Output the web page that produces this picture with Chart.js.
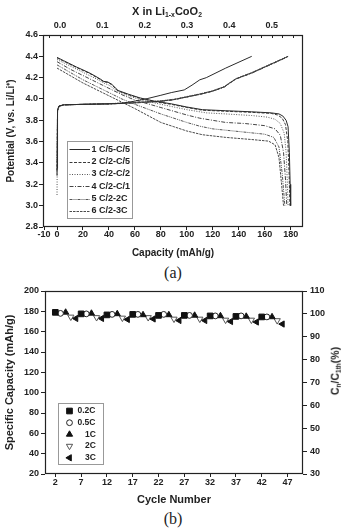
<!DOCTYPE html>
<html>
<head>
<meta charset="utf-8">
<script src="https://cdn.jsdelivr.net/npm/chart.js@4.4.1/dist/chart.umd.min.js"></script>
<style>
html,body{margin:0;padding:0;background:#fff;}
body{width:346px;height:529px;position:relative;overflow:hidden;}
.box{position:absolute;left:0;width:346px;}
#boxA{top:0;height:262px;}
#boxB{top:280px;height:230px;}
.lbl{position:absolute;font-family:"Liberation Sans",Arial,sans-serif;font-weight:bold;color:#222;white-space:nowrap;line-height:1;}
.lbl sub{font-size:0.62em;vertical-align:baseline;position:relative;top:0.35em;}
.cap{position:absolute;font-family:"Liberation Serif","Times New Roman",serif;color:#222;font-size:16px;line-height:1;transform:translate(-50%,-50%);white-space:nowrap;}
</style>
</head>
<body>
<div class="box" id="boxA"><canvas id="chartA"></canvas></div>
<div class="lbl" style="left:167px;top:11px;font-size:11px;transform:translate(-50%,-50%);">X in Li<sub>1-x</sub>CoO<sub>2</sub></div>
<div class="cap" style="left:173px;top:273px;">(a)</div>
<div class="box" id="boxB"><canvas id="chartB"></canvas></div>
<div class="lbl" style="left:335px;top:371px;font-size:10.5px;transform:translate(-50%,-50%) rotate(-90deg);">C<sub>n</sub>/C<sub>1th</sub>(%)</div>
<div class="cap" style="left:173px;top:519px;">(b)</div>
<script>
// ================= DATA (a) =================
const capacityTicks = [-10, 0, 20, 40, 60, 80, 100, 120, 140, 160, 180];
const xLiTickMarks = [-0.025, 0, 0.025, 0.05, 0.075, 0.1, 0.125, 0.15, 0.175, 0.2, 0.225, 0.25, 0.275, 0.3, 0.325, 0.35, 0.375, 0.4, 0.425, 0.45, 0.475, 0.5, 0.525, 0.55];
const xLiLabels = [0.0, 0.1, 0.2, 0.3, 0.4, 0.5];
const curveLabels = ['1 C/5-C/5', '2 C/2-C/5', '3 C/2-C/2', '4 C/2-C/1', '5 C/2-2C', '6 C/2-3C'];

// charge curves [capacity mAh/g, potential V]
const charge1 = [[0,3.35],[0.4,3.90],[1.5,3.935],[5,3.945],[20,3.95],[40,3.955],[50,3.96],[60,3.98],[70,4.005],[80,4.035],[88,4.06],[98,4.085],[104,4.13],[110,4.18],[115,4.20],[130,4.29],[150,4.40]];
const charge2 = [[0,3.28],[0.4,3.89],[1.5,3.93],[5,3.945],[20,3.95],[40,3.955],[60,3.965],[80,3.98],[90,3.995],[100,4.02],[110,4.045],[120,4.075],[129,4.115],[133,4.15],[138,4.19],[150,4.245],[160,4.30],[170,4.355],[178,4.40]];
const charge3 = [[0,3.10],[0.4,3.88],[1.5,3.93],[5,3.945],[20,3.95],[40,3.957],[60,3.967],[80,3.983],[90,3.998],[100,4.023],[110,4.048],[120,4.078],[129,4.118],[133,4.153],[138,4.193],[150,4.248],[160,4.303],[170,4.357],[178.5,4.40]];
const charge4 = [[0,3.32],[0.4,3.89],[1.5,3.932],[5,3.945],[20,3.95],[40,3.953],[60,3.963],[80,3.978],[90,3.993],[100,4.018],[110,4.043],[120,4.073],[129,4.113],[133,4.148],[138,4.188],[150,4.242],[160,4.297],[170,4.352],[177.5,4.395]];
const charge5 = [[0,3.35],[0.4,3.89],[1.5,3.93],[5,3.945],[20,3.95],[40,3.956],[60,3.966],[80,3.981],[90,3.996],[100,4.021],[110,4.046],[120,4.076],[129,4.116],[133,4.151],[138,4.191],[150,4.246],[160,4.301],[170,4.356],[178,4.40]];
const charge6 = [[0,3.30],[0.4,3.89],[1.5,3.93],[5,3.945],[20,3.95],[40,3.954],[60,3.964],[80,3.979],[90,3.994],[100,4.019],[110,4.044],[120,4.074],[129,4.114],[133,4.149],[138,4.189],[150,4.244],[160,4.299],[170,4.354],[177.8,4.398]];

// discharge curves [capacity mAh/g, potential V]
const discharge1 = [[0,4.39],[5,4.36],[15,4.30],[25,4.245],[33,4.19],[36,4.165],[39,4.16],[42,4.14],[47,4.08],[55,4.045],[64,4.01],[75,3.98],[88,3.955],[100,3.925],[112,3.90],[130,3.89],[150,3.88],[165,3.87],[171,3.86],[174,3.84],[176.5,3.80],[178,3.74],[179,3.5],[179.6,3.2],[180,3.0]];
const discharge2 = [[0,4.385],[5,4.355],[15,4.295],[25,4.24],[33,4.185],[36,4.16],[39,4.155],[42,4.135],[47,4.075],[55,4.04],[64,4.005],[75,3.975],[88,3.95],[100,3.92],[112,3.895],[130,3.885],[150,3.875],[165,3.865],[170,3.85],[173.5,3.82],[176,3.76],[177.8,3.6],[178.8,3.3],[179.4,3.0]];
const discharge3 = [[0,4.37],[10,4.31],[20,4.25],[30,4.19],[36,4.15],[40,4.13],[47,4.07],[55,4.03],[65,3.99],[80,3.95],[100,3.90],[115,3.87],[130,3.86],[150,3.845],[162,3.83],[168,3.81],[172,3.77],[175,3.68],[176.5,3.5],[177.5,3.2],[178,3.0]];
const discharge4 = [[0,4.35],[10,4.28],[20,4.22],[30,4.16],[40,4.10],[50,4.04],[60,3.99],[80,3.92],[100,3.85],[110,3.82],[120,3.80],[130,3.78],[145,3.77],[160,3.75],[168,3.72],[172,3.66],[174.5,3.5],[176,3.25],[177,3.0]];
const discharge5 = [[0,4.32],[10,4.25],[20,4.18],[30,4.12],[40,4.06],[50,4.00],[60,3.95],[80,3.86],[100,3.78],[110,3.745],[120,3.72],[140,3.695],[160,3.67],[167,3.64],[171,3.55],[173.5,3.3],[175.5,3.0]];
const discharge6 = [[0,4.29],[10,4.22],[20,4.15],[30,4.09],[40,4.03],[50,3.97],[60,3.91],[80,3.78],[90,3.74],[100,3.70],[112,3.665],[130,3.64],[150,3.62],[163,3.605],[168,3.57],[171,3.45],[173,3.2],[174.5,3.0]];

// ================= DATA (b) =================
const cycleTicks = [2, 7, 12, 17, 22, 27, 32, 37, 42, 47];
const rateLabels = ['0.2C', '0.5C', '1C', '2C', '3C'];
const cycles02C = [2, 7, 12, 17, 22, 27, 32, 37, 42];
const cap02C    = [179, 177.5, 176.5, 177, 176, 176, 175.5, 175, 174.5];
const cycles05C = [3, 8, 13, 18, 23, 28, 33, 38, 43];
const cap05C    = [178, 177.5, 177, 177, 177, 176, 175.5, 175.5, 174.5];
const cycles1C  = [4, 9, 14, 19, 24, 29, 34, 39, 44];
const cap1C     = [179, 178, 177.5, 176.5, 176.5, 176, 175.5, 175, 174.5];
const cycles2C  = [5, 10, 15, 20, 25, 30, 35, 40, 45];
const cap2C     = [174.5, 174, 173.5, 174, 172.5, 172.5, 171.5, 171.5, 171];
const cycles3C  = [6, 11, 16, 21, 26, 31, 36, 41, 46];
const cap3C     = [173, 173, 172, 172.5, 171, 171, 170, 169.5, 167.5];

// ================= STYLES =================
const FONT = '"Liberation Sans", Arial, sans-serif';
const INK = '#222';
const lineStyles = [
  {color:'#2a2a2a', dash:[]},
  {color:'#3a3a3a', dash:[3,1.5]},
  {color:'#555555', dash:[1,1.5]},
  {color:'#444444', dash:[4,1.5,1,1.5]},
  {color:'#555555', dash:[3,1,1,1,1,1]},
  {color:'#4a4a4a', dash:[2.5,1]}
];
const toXY = arr => arr.map(p => ({x:p[0], y:p[1]}));

const charges = [charge1, charge2, charge3, charge4, charge5, charge6];
const discharges = [discharge1, discharge2, discharge3, discharge4, discharge5, discharge6];

const datasetsA = [];
curveLabels.forEach((lab, i) => {
  const st = lineStyles[i];
  datasetsA.push({label: lab, legendEntry: true, data: toXY(discharges[i]), showLine: true, pointRadius: 0,
    borderColor: st.color, borderDash: st.dash, borderWidth: 1, fill: false, tension: 0});
  datasetsA.push({label: lab + ' charge', legendEntry: false, data: toXY(charges[i]), showLine: true, pointRadius: 0,
    borderColor: st.color, borderDash: st.dash, borderWidth: 1, fill: false, tension: 0});
});

const framePlugin = {
  id: 'frame',
  afterDatasetsDraw(chart) {
    const {ctx, chartArea: a} = chart;
    ctx.save();
    ctx.strokeStyle = INK; ctx.lineWidth = 1.2; ctx.setLineDash([]);
    ctx.strokeRect(Math.round(a.left) + 0.5, Math.round(a.top) + 0.5, Math.round(a.right - a.left) - 1, Math.round(a.bottom - a.top) - 1);
    ctx.restore();
  }
};

const topTicksPlugin = {
  id: 'topTicks',
  afterDatasetsDraw(chart) {
    const s = chart.scales.x2; if (!s) return;
    const {ctx, chartArea: a} = chart;
    ctx.save(); ctx.strokeStyle = INK; ctx.lineWidth = 1; ctx.setLineDash([]);
    ctx.beginPath();
    s.ticks.forEach(t => {
      const px = Math.round(s.getPixelForValue(t.value)) + 0.5;
      ctx.moveTo(px, a.top); ctx.lineTo(px, a.top + 3);
    });
    ctx.stroke(); ctx.restore();
  }
};

const legendAPlugin = {
  id: 'legendA',
  afterDatasetsDraw(chart) {
    const {ctx} = chart;
    const bx = 67, by = 141, bw = 65, bh = 77;
    ctx.save();
    ctx.fillStyle = '#fff'; ctx.fillRect(bx, by, bw, bh);
    ctx.strokeStyle = '#999'; ctx.lineWidth = 1; ctx.setLineDash([]);
    ctx.strokeRect(bx + 0.5, by + 0.5, bw, bh);
    let k = 0;
    chart.data.datasets.forEach(ds => {
      if (!ds.legendEntry) return;
      const y = 149.3 + k * 12.3;
      ctx.strokeStyle = ds.borderColor; ctx.lineWidth = 1; ctx.setLineDash(ds.borderDash);
      ctx.beginPath(); ctx.moveTo(69.5, Math.round(y) + 0.5); ctx.lineTo(90, Math.round(y) + 0.5); ctx.stroke();
      ctx.setLineDash([]);
      ctx.fillStyle = INK; ctx.font = 'bold 9px ' + FONT; ctx.textAlign = 'left'; ctx.textBaseline = 'middle';
      ctx.fillText(ds.label, 91.5, y);
      k++;
    });
    ctx.restore();
  }
};

const tickFont = {family: FONT, size: 9, weight: 'bold', lineHeight: 1};

new Chart(document.getElementById('chartA'), {
  type: 'scatter',
  data: {datasets: datasetsA},
  options: {
    responsive: true, maintainAspectRatio: false, animation: false, devicePixelRatio: 1,
    layout: {padding: {left: 0, right: 43, top: 0, bottom: 0}},
    plugins: {legend: {display: false}, tooltip: {enabled: false}},
    scales: {
      x: {
        type: 'linear', position: 'bottom', min: -10.8, max: 189.5,
        afterBuildTicks: s => { s.ticks = capacityTicks.map(v => ({value: v})); },
        afterFit: s => { s.height = 35; },
        grid: {drawOnChartArea: false, drawTicks: true, tickLength: 3, color: INK},
        border: {display: false},
        ticks: {font: tickFont, color: INK, padding: 0, maxRotation: 0, autoSkip: false, callback: v => String(v)},
        title: {display: true, text: 'Capacity (mAh/g)', font: {family: FONT, size: 10, weight: 'bold'}, color: INK, padding: {top: 0, bottom: 3}}
      },
      x2: {
        type: 'linear', position: 'top', min: -0.0402, max: 0.574,
        afterBuildTicks: s => { s.ticks = xLiTickMarks.map(v => ({value: v})); },
        afterFit: s => { s.height = 35; },
        grid: {display: false, drawTicks: false, tickLength: 0},
        border: {display: false},
        ticks: {font: tickFont, color: INK, padding: 5, maxRotation: 0, autoSkip: false,
          callback: v => xLiLabels.some(l => Math.abs(l - v) < 1e-6) ? v.toFixed(1) : ''}
      },
      y: {
        type: 'linear', position: 'left', min: 2.8, max: 4.6,
        afterFit: s => { s.width = 43; },
        grid: {drawOnChartArea: false, drawTicks: true, tickLength: 4, color: INK},
        border: {display: false},
        ticks: {stepSize: 0.2, font: tickFont, color: INK, padding: 1, callback: v => Number(v).toFixed(1)},
        title: {display: true, text: 'Potential (V, vs. Li/Li\u207A)', font: {family: FONT, size: 10, weight: 'bold'}, color: INK, padding: {top: 5, bottom: 0}}
      }
    }
  },
  plugins: [framePlugin, topTicksPlugin, legendAPlugin]
});

// ================= CHART (b) =================
const seriesB = [
  {cycles: cycles02C, caps: cap02C, style: 'rect', rot: 0, radius: 4, fill: '#111', stroke: '#111'},
  {cycles: cycles05C, caps: cap05C, style: 'circle', rot: 0, radius: 2.9, fill: '#fff', stroke: '#222'},
  {cycles: cycles1C, caps: cap1C, style: 'triangle', rot: 0, radius: 3.6, fill: '#111', stroke: '#111'},
  {cycles: cycles2C, caps: cap2C, style: 'triangle', rot: 180, radius: 3.6, fill: '#fff', stroke: '#555'},
  {cycles: cycles3C, caps: cap3C, style: 'triangle', rot: 270, radius: 3.6, fill: '#111', stroke: '#111'}
];
const datasetsB = seriesB.map((s, i) => ({
  label: rateLabels[i],
  data: s.cycles.map((c, j) => ({x: c, y: s.caps[j]})),
  pointStyle: s.style, rotation: s.rot, pointRotation: s.rot, pointRadius: s.radius,
  backgroundColor: s.fill, borderColor: s.stroke, borderWidth: 1, showLine: false
}));

const legendBPlugin = {
  id: 'legendB',
  afterDatasetsDraw(chart) {
    const {ctx} = chart;
    const bx = 58, by = 123, bw = 45, bh = 61;
    ctx.save();
    ctx.fillStyle = '#fff'; ctx.fillRect(bx, by, bw, bh);
    ctx.strokeStyle = '#999'; ctx.lineWidth = 1;
    ctx.strokeRect(bx + 0.5, by + 0.5, bw, bh);
    chart.data.datasets.forEach((ds, k) => {
      const y = 131 + k * 11.7;
      ctx.fillStyle = ds.backgroundColor; ctx.strokeStyle = ds.borderColor; ctx.lineWidth = 1;
      Chart.helpers.drawPoint(ctx, {pointStyle: ds.pointStyle, rotation: ds.pointRotation, radius: ds.pointRadius, borderWidth: 1}, 69.5, y);
      ctx.fillStyle = INK; ctx.font = 'bold 8.5px ' + FONT; ctx.textAlign = 'left'; ctx.textBaseline = 'middle';
      ctx.fillText(ds.label, ds.label.length > 2 ? 77.5 : 85, y);
    });
    ctx.restore();
  }
};

new Chart(document.getElementById('chartB'), {
  type: 'scatter',
  data: {datasets: datasetsB},
  options: {
    responsive: true, maintainAspectRatio: false, animation: false, devicePixelRatio: 1,
    layout: {padding: {left: 0, right: 0, top: 11, bottom: 0}},
    plugins: {legend: {display: false}, tooltip: {enabled: false}},
    scales: {
      x: {
        type: 'linear', position: 'bottom', min: 0, max: 50,
        afterBuildTicks: s => { s.ticks = cycleTicks.map(v => ({value: v})); },
        afterFit: s => { s.height = 36; },
        grid: {drawOnChartArea: false, drawTicks: true, tickLength: 3, color: INK},
        border: {display: false},
        ticks: {font: tickFont, color: INK, padding: 1, maxRotation: 0, autoSkip: false, callback: v => String(v)},
        title: {display: true, text: 'Cycle Number', font: {family: FONT, size: 11, weight: 'bold'}, color: INK, padding: {top: 0, bottom: 3}}
      },
      y: {
        type: 'linear', position: 'left', min: 20, max: 200,
        afterFit: s => { s.width = 45; },
        grid: {drawOnChartArea: false, drawTicks: true, tickLength: 4, color: INK},
        border: {display: false},
        ticks: {stepSize: 20, font: tickFont, color: INK, padding: 2},
        title: {display: true, text: 'Specific Capacity (mAh/g)', font: {family: FONT, size: 11, weight: 'bold'}, color: INK, padding: {top: 3, bottom: 0}}
      },
      y2: {
        type: 'linear', position: 'right', min: 30, max: 110,
        afterFit: s => { s.width = 43; },
        grid: {drawOnChartArea: false, drawTicks: true, tickLength: 4, color: INK},
        border: {display: false},
        ticks: {stepSize: 10, font: tickFont, color: INK, padding: 3}
      }
    }
  },
  plugins: [framePlugin, legendBPlugin]
});
</script>
</body>
</html>
